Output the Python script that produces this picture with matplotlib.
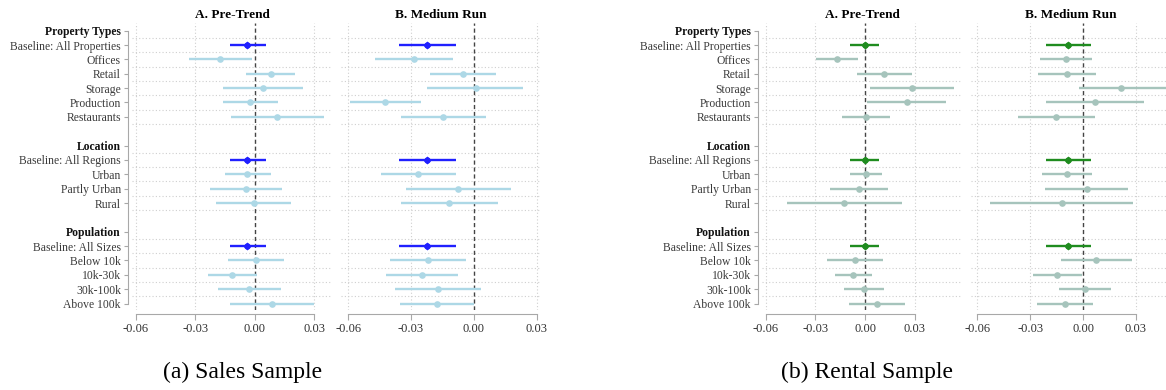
import numpy as np
import matplotlib
matplotlib.use("Agg")
import matplotlib.pyplot as plt

plt.rcParams["font.family"] = ["Liberation Serif", "DejaVu Serif"]

# row layout: three groups, blank line between groups
group_names = ["Property Types", "Location", "Population"]
group_rows = [
    ["Baseline: All Properties", "Offices", "Retail", "Storage", "Production", "Restaurants"],
    ["Baseline: All Regions", "Urban", "Partly Urban", "Rural"],
    ["Baseline: All Sizes", "Below 10k", "10k-30k", "30k-100k", "Above 100k"],
]

# estimates and 95% bounds, in row order (15 rows)
sales_pre_est = [-0.0039, -0.0176, 0.0079, 0.0039, -0.0025, 0.0114,
                 -0.0039, -0.0039, -0.0045, -0.0005,
                 -0.0039, 0.0005, -0.0114, -0.0029, 0.0087]
sales_pre_lo = [-0.0126, -0.0332, -0.0047, -0.0162, -0.0162, -0.0119,
                -0.0126, -0.0149, -0.0224, -0.0194,
                -0.0126, -0.0136, -0.0238, -0.0188, -0.0126]
sales_pre_hi = [0.0055, -0.0013, 0.0204, 0.0243, 0.0117, 0.0350,
                0.0055, 0.0079, 0.0139, 0.0184,
                0.0055, 0.0146, 0.0010, 0.0134, 0.0300]

sales_mid_est = [-0.0222, -0.0286, -0.0054, 0.0008, -0.0424, -0.0146,
                 -0.0222, -0.0267, -0.0074, -0.0119,
                 -0.0222, -0.0220, -0.0250, -0.0172, -0.0176]
sales_mid_lo = [-0.0356, -0.0473, -0.0212, -0.0222, -0.0593, -0.0348,
                -0.0356, -0.0445, -0.0323, -0.0350,
                -0.0356, -0.0402, -0.0421, -0.0378, -0.0354]
sales_mid_hi = [-0.0085, -0.0098, 0.0108, 0.0237, -0.0252, 0.0060,
                -0.0085, -0.0087, 0.0176, 0.0116,
                -0.0085, -0.0036, -0.0078, 0.0033, 0.0002]

rent_pre_est = [-0.0003, -0.0171, 0.0117, 0.0282, 0.0252, 0.0004,
                -0.0003, 0.0006, -0.0036, -0.0125,
                -0.0003, -0.0060, -0.0072, -0.0004, 0.0070]
rent_pre_lo = [-0.0089, -0.0296, -0.0050, 0.0028, 0.0014, -0.0139,
               -0.0089, -0.0091, -0.0209, -0.0473,
               -0.0089, -0.0228, -0.0181, -0.0125, -0.0099]
rent_pre_hi = [0.0083, -0.0044, 0.0286, 0.0536, 0.0491, 0.0149,
               0.0083, 0.0105, 0.0141, 0.0223,
               0.0083, 0.0109, 0.0040, 0.0117, 0.0244]

rent_mid_est = [-0.0083, -0.0098, -0.0093, 0.0217, 0.0066, -0.0153,
                -0.0083, -0.0093, 0.0021, -0.0121,
                -0.0083, 0.0076, -0.0146, 0.0011, -0.0102]
rent_mid_lo = [-0.0208, -0.0246, -0.0257, -0.0026, -0.0210, -0.0372,
               -0.0208, -0.0233, -0.0214, -0.0529,
               -0.0208, -0.0125, -0.0284, -0.0136, -0.0259]
rent_mid_hi = [0.0045, 0.0051, 0.0074, 0.0480, 0.0344, 0.0066,
               0.0045, 0.0051, 0.0255, 0.0285,
               0.0045, 0.0276, -0.0006, 0.0161, 0.0055]

xticks = [-0.06, -0.03, 0.00, 0.03]
xtick_labels = ["-0.06", "-0.03", "0.00", "0.03"]

# build y positions (0 = top)
labels, ypos, header_pos, data_pos, row_names = [], [], [], [], []
pos = 0
for gi, (gname, rows) in enumerate(zip(group_names, group_rows)):
    labels.append(gname); ypos.append(pos); header_pos.append(pos)
    pos += 1
    for r in rows:
        labels.append(r); ypos.append(pos); data_pos.append(pos); row_names.append(r)
        pos += 1
    pos += 1  # blank spacer
data_pos = np.array(data_pos)
is_base = np.array([n.startswith("Baseline") for n in row_names])
n_rows = ypos[-1]

# dotted separators after every label row except the last one
sep_pos = [p + 0.5 for p in ypos[:-1]]

W, H = 1166, 390
fig = plt.figure(figsize=(W / 100, H / 100), dpi=100)


def px_axes(x0, x1, y0, y1):
    return fig.add_axes([x0 / W, 1 - y1 / H, (x1 - x0) / W, (y1 - y0) / H])


def draw_panel(ax, est, lo, hi, xlim, light, dark, title, show_y):
    est, lo, hi = map(np.asarray, (est, lo, hi))
    ax.set_xlim(*xlim)
    ax.set_ylim(19.45, -0.5)
    for p in sep_pos:
        ax.axhline(p, color="#cfcfcf", lw=0.8, ls=(0, (1, 2)), zorder=0)
    for t in xticks:
        if t != 0:
            ax.axvline(t, color="#cfcfcf", lw=0.8, ls=(0, (1, 2)), zorder=0)
    ax.axvline(0, color="#444444", lw=1.0, ls=(0, (3, 2)), zorder=1)

    lt = ~is_base
    ax.hlines(data_pos[lt], lo[lt], hi[lt], color=light, lw=1.7, zorder=2)
    ax.plot(est[lt], data_pos[lt], "o", color=light, ms=4.8, mec="none", zorder=3)
    ax.hlines(data_pos[is_base], lo[is_base], hi[is_base], color=dark, lw=1.7, zorder=2)
    ax.plot(est[is_base], data_pos[is_base], "D", color=dark, ms=4.2, mec="none", zorder=3)
    ax.plot(est[is_base], data_pos[is_base], "o", color=dark, ms=4.6, mec="none", zorder=3)

    ax.set_title(title, fontsize=9.5, fontweight="bold", pad=4)
    ax.set_xticks(xticks)
    ax.set_xticklabels(xtick_labels)
    for s in ["top", "right"]:
        ax.spines[s].set_visible(False)
    ax.spines["bottom"].set_position(("outward", 3))
    ax.spines["bottom"].set_bounds(-0.06, 0.03)
    ax.spines["bottom"].set_color("#a8a8a8")
    ax.tick_params(axis="x", colors="#a8a8a8", length=4, width=0.8,
                   labelsize=9, labelcolor="#333333", pad=2)
    if show_y:
        ax.spines["left"].set_position(("outward", 3))
        ax.spines["left"].set_bounds(0, n_rows)
        ax.spines["left"].set_color("#a8a8a8")
        ax.set_yticks(ypos)
        ax.set_yticklabels(labels)
        ax.tick_params(axis="y", colors="#a8a8a8", length=3, width=0.8,
                       labelsize=8.4, labelcolor="#3a3a3a", pad=2)
        for lab, p in zip(ax.get_yticklabels(), ypos):
            if p in header_pos:
                lab.set_fontweight("bold")
                lab.set_color("#111111")
    else:
        ax.spines["left"].set_visible(False)
        ax.set_yticks([])


sales_light, sales_dark = "#add8e6", "#2020ff"
rent_light, rent_dark = "#a6c4bc", "#1f8c1f"

ax1 = px_axes(132, 332, 23.5, 310)
draw_panel(ax1, sales_pre_est, sales_pre_lo, sales_pre_hi, (-0.06202, 0.03894),
           sales_light, sales_dark, "A. Pre-Trend", True)
ax2 = px_axes(341, 541, 23.5, 310)
draw_panel(ax2, sales_mid_est, sales_mid_lo, sales_mid_hi, (-0.06349, 0.03207),
           sales_light, sales_dark, "B. Medium Run", False)
ax3 = px_axes(762, 962, 23.5, 310)
draw_panel(ax3, rent_pre_est, rent_pre_lo, rent_pre_hi, (-0.06223, 0.05857),
           rent_light, rent_dark, "A. Pre-Trend", True)
ax4 = px_axes(970.5, 1170.5, 23.5, 310)
draw_panel(ax4, rent_mid_est, rent_mid_lo, rent_mid_hi, (-0.06386, 0.04958),
           rent_light, rent_dark, "B. Medium Run", False)

fig.text(243 / W, 1 - 372 / H, "(a) Sales Sample", ha="center", va="center", fontsize=17)
fig.text(867 / W, 1 - 372 / H, "(b) Rental Sample", ha="center", va="center", fontsize=17)

fig.savefig("out.png", dpi=100)
